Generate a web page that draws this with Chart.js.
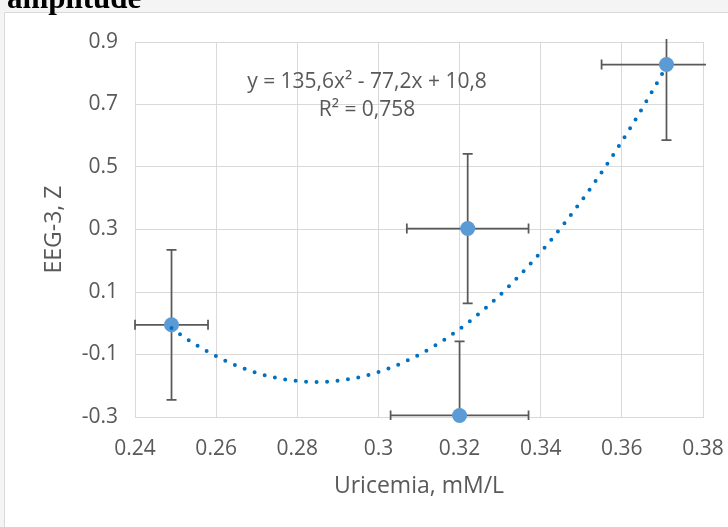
<!DOCTYPE html>
<html lang="en">
<head>
<meta charset="UTF-8">
<title>EEG-3 amplitude vs uricemia</title>
<style>
  html, body { margin: 0; padding: 0; background: #fff; }
</style>
</head>
<body>
<script src="https://cdn.jsdelivr.net/npm/chart.js@4/dist/chart.umd.min.js"></script>
<canvas id="chart" width="728" height="527"></canvas>

<script>
// measurements: uricemia (mM/L) against EEG-3 amplitude (Z score), with SD bars
const uricemia = [0.249, 0.322, 0.320, 0.371];
const eegZ = [-0.005, 0.303, -0.295, 0.828];
const uricemiaErr = [0.009, 0.015, 0.017, 0.016];
const eegErr = [0.240, 0.239, 0.237, 0.242];

// polynomial trend: a*x^2 + b*x + c
const trendCoef = [135.6, -77.2, 10.8];
const trendText = ['y = 135,6x² - 77,2x + 10,8', 'R² = 0,758'];

const xTicks = [0.24, 0.26, 0.28, 0.3, 0.32, 0.34, 0.36, 0.38];
const yTicks = [-0.3, -0.1, 0.1, 0.3, 0.5, 0.7, 0.9];

const GREY = '#595959';
const GRID = '#d9d9d9';
const FONT = "'Open Sans', sans-serif";

const points = uricemia.map((x, i) => ({ x: x, y: eegZ[i] }));

const trend = [];
const x0 = Math.min(...uricemia), x1 = Math.max(...uricemia);
for (let i = 0; i <= 150; i++) {
    const x = x0 + (x1 - x0) * i / 150;
    trend.push({ x: x, y: trendCoef[0] * x * x + trendCoef[1] * x + trendCoef[2] });
}

// page strip, chart frame and the cut-off heading
const frame = {
    id: 'frame',
    beforeDraw(chart) {
        const ctx = chart.ctx;
        ctx.save();
        ctx.fillStyle = '#f4f4f4';
        ctx.fillRect(0, 0, chart.width, chart.height);
        ctx.fillStyle = '#ffffff';
        ctx.fillRect(5, 13, chart.width - 5, chart.height - 13);
        ctx.strokeStyle = GRID;
        ctx.lineWidth = 1;
        ctx.beginPath();
        ctx.moveTo(4.5, chart.height);
        ctx.lineTo(4.5, 12.5);
        ctx.lineTo(chart.width, 12.5);
        ctx.stroke();
        ctx.fillStyle = '#000000';
        ctx.font = "bold 31px 'Liberation Serif', serif";
        ctx.textBaseline = 'alphabetic';
        ctx.textAlign = 'left';
        ctx.fillText('amplitude', 7, 8);
        ctx.restore();
    }
};

// SD bars in both directions, under the markers
const errorBars = {
    id: 'errorBars',
    beforeDatasetsDraw(chart) {
        const ctx = chart.ctx;
        const xs = chart.scales.x, ys = chart.scales.y;
        const a = chart.chartArea;
        const cap = 5;
        ctx.save();
        ctx.beginPath();
        ctx.rect(a.left - 3, a.top - 3, a.right - a.left + 6, a.bottom - a.top + 6);
        ctx.clip();
        ctx.strokeStyle = GREY;
        ctx.lineWidth = 1.75;
        uricemia.forEach((x, i) => {
            const px = xs.getPixelForValue(x);
            const py = ys.getPixelForValue(eegZ[i]);
            const xl = xs.getPixelForValue(x - uricemiaErr[i]);
            const xr = xs.getPixelForValue(x + uricemiaErr[i]);
            const yt = ys.getPixelForValue(eegZ[i] + eegErr[i]);
            const yb = ys.getPixelForValue(eegZ[i] - eegErr[i]);
            ctx.beginPath();
            ctx.moveTo(xl, py); ctx.lineTo(xr, py);
            ctx.moveTo(xl, py - cap); ctx.lineTo(xl, py + cap);
            ctx.moveTo(xr, py - cap); ctx.lineTo(xr, py + cap);
            ctx.moveTo(px, yt); ctx.lineTo(px, yb);
            ctx.moveTo(px - cap, yt); ctx.lineTo(px + cap, yt);
            ctx.moveTo(px - cap, yb); ctx.lineTo(px + cap, yb);
            ctx.stroke();
        });
        ctx.restore();
    }
};

// trendline equation and R²
const trendLabel = {
    id: 'trendLabel',
    afterDatasetsDraw(chart) {
        const ctx = chart.ctx;
        ctx.save();
        ctx.fillStyle = GREY;
        ctx.font = '21px ' + FONT;
        ctx.textAlign = 'center';
        ctx.textBaseline = 'middle';
        trendText.forEach((t, i) => ctx.fillText(t, 367, 82 + i * 28));
        ctx.restore();
    }
};

new Chart(document.getElementById('chart'), {
    type: 'scatter',
    data: {
        datasets: [{
            label: 'trend',
            data: trend,
            showLine: true,
            order: 0,
            borderColor: '#0070c0',
            borderWidth: 4,
            borderDash: [0, 10.5],
            borderCapStyle: 'round',
            pointRadius: 0,
            tension: 0,
            fill: false
        }, {
            label: 'EEG-3',
            data: points,
            order: 1,
            clip: false,
            pointRadius: 7.5,
            pointBackgroundColor: '#5b9bd5',
            pointBorderWidth: 0
        }]
    },
    options: {
        responsive: false,
        animation: false,
        layout: { padding: { left: 0, top: 42, right: 25, bottom: 0 } },
        plugins: {
            legend: { display: false },
            tooltip: { enabled: false }
        },
        scales: {
            x: {
                min: 0.24,
                max: 0.38,
                afterBuildTicks: s => { s.ticks = xTicks.map(v => ({ value: v })); },
                afterFit: s => { s.height = 110; s.paddingLeft = 0; s.paddingRight = 0; },
                grid: { color: GRID, lineWidth: 1, drawTicks: false },
                border: { color: GRID },
                ticks: {
                    color: GREY,
                    padding: 19,
                    font: { family: FONT, size: 21 },
                    callback: v => String(v)
                },
                title: {
                    display: true,
                    text: 'Uricemia, mM/L',
                    color: GREY,
                    font: { family: FONT, size: 23 },
                    padding: { top: 0, bottom: 27 }
                }
            },
            y: {
                min: -0.3,
                max: 0.9,
                afterBuildTicks: s => { s.ticks = yTicks.map(v => ({ value: v })); },
                afterFit: s => { s.width = 135; s.paddingTop = 0; s.paddingBottom = 0; },
                grid: { color: GRID, lineWidth: 1, drawTicks: false },
                border: { color: GRID },
                ticks: {
                    color: GREY,
                    padding: 17,
                    font: { family: FONT, size: 21 },
                    callback: v => String(v)
                },
                title: {
                    display: true,
                    text: 'EEG-3, Z',
                    color: GREY,
                    font: { family: FONT, size: 23 },
                    padding: { top: 41, bottom: 0 }
                }
            }
        }
    },
    plugins: [frame, errorBars, trendLabel]
});
</script>
</body>
</html>
